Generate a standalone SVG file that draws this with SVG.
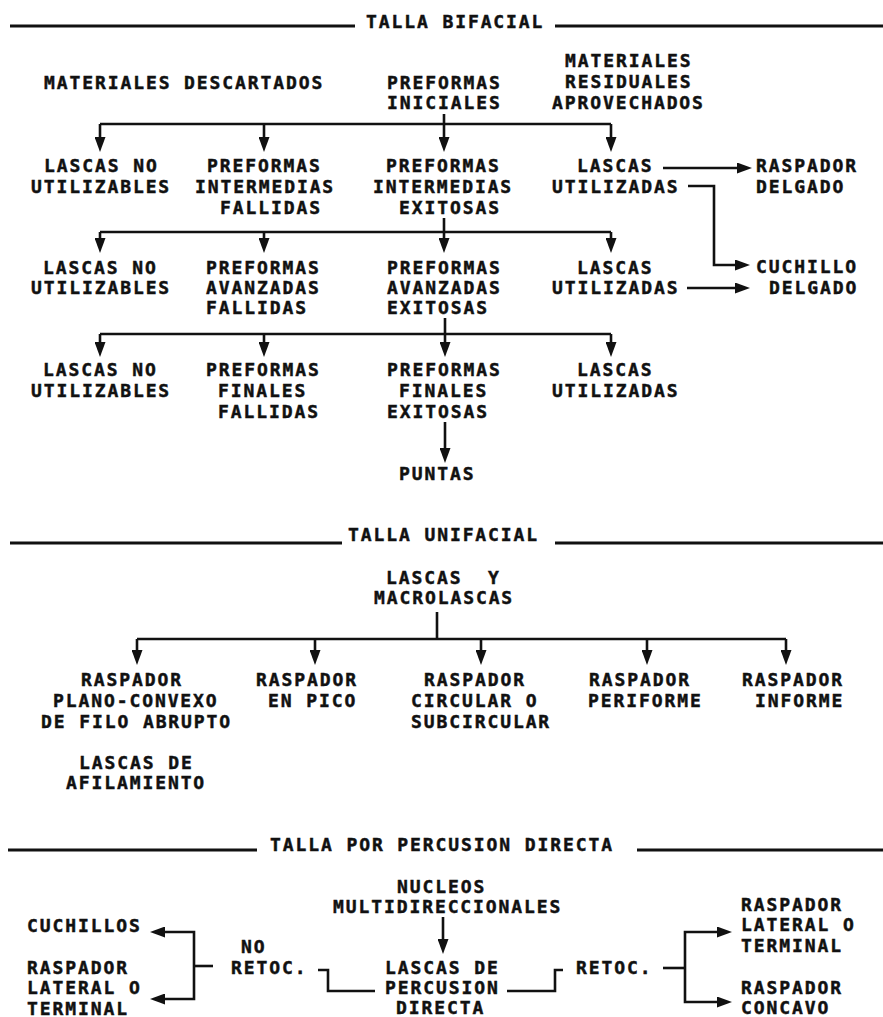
<svg xmlns="http://www.w3.org/2000/svg" width="883" height="1017" viewBox="0 0 883 1017">
<style>
.t{font-family:"DejaVu Sans Mono","Liberation Mono",monospace;font-weight:bold;font-size:18px;letter-spacing:1.9px;fill:#111;stroke:#111;stroke-width:0.45;white-space:pre}
.ln{stroke:#111;stroke-width:3;fill:none}
.c{stroke:#111;stroke-width:2.6;fill:none;stroke-linejoin:miter}
.a{marker-end:url(#ah)}
</style>
<defs>
<marker id="ah" markerUnits="userSpaceOnUse" markerWidth="15" markerHeight="11" refX="4" refY="5.5" orient="auto" viewBox="0 0 15 11">
<path d="M0,0 L15,5.5 L0,11 z" fill="#111"/>
</marker>
</defs>
<rect width="883" height="1017" fill="#fff"/>

<g id="title-bifacial">
<path class="ln" d="M10,26 H355 M555,26 H883"/>
<text class="t" x="366" y="28">TALLA BIFACIAL</text>
</g>
<g id="materiales-descartados"><text class="t" x="44" y="89.4">MATERIALES DESCARTADOS</text></g>
<g id="preformas-iniciales"><text class="t" x="387" y="89.4">PREFORMAS</text><text class="t" x="387" y="109.4">INICIALES</text></g>
<g id="materiales-residuales"><text class="t" x="565" y="67.4">MATERIALES</text><text class="t" x="565" y="88.4">RESIDUALES</text><text class="t" x="552" y="109.4">APROVECHADOS</text></g>

<g id="r2-lascas-no"><text class="t" x="44" y="172.4">LASCAS NO</text><text class="t" x="31" y="193.4">UTILIZABLES</text></g>
<g id="r2-pref-fallidas"><text class="t" x="207" y="172.4">PREFORMAS</text><text class="t" x="195" y="193.4">INTERMEDIAS</text><text class="t" x="220" y="213.9">FALLIDAS</text></g>
<g id="r2-pref-exitosas"><text class="t" x="386" y="172.4">PREFORMAS</text><text class="t" x="373" y="193.4">INTERMEDIAS</text><text class="t" x="399" y="213.9">EXITOSAS</text></g>
<g id="r2-lascas-util"><text class="t" x="577" y="172.4">LASCAS</text><text class="t" x="552" y="193.4">UTILIZADAS</text></g>
<g id="raspador-delgado"><text class="t" x="756" y="172.4">RASPADOR</text><text class="t" x="756" y="193.4">DELGADO</text></g>

<g id="r3-lascas-no"><text class="t" x="43" y="274">LASCAS NO</text><text class="t" x="31" y="294.4">UTILIZABLES</text></g>
<g id="r3-pref-fallidas"><text class="t" x="206" y="274">PREFORMAS</text><text class="t" x="206" y="294.4">AVANZADAS</text><text class="t" x="206" y="314.4">FALLIDAS</text></g>
<g id="r3-pref-exitosas"><text class="t" x="387" y="274">PREFORMAS</text><text class="t" x="387" y="294.4">AVANZADAS</text><text class="t" x="387" y="314.4">EXITOSAS</text></g>
<g id="r3-lascas-util"><text class="t" x="577" y="274">LASCAS</text><text class="t" x="552" y="294.4">UTILIZADAS</text></g>
<g id="cuchillo-delgado"><text class="t" x="756" y="273.4">CUCHILLO</text><text class="t" x="769" y="294.4">DELGADO</text></g>

<g id="r4-lascas-no"><text class="t" x="43" y="376.4">LASCAS NO</text><text class="t" x="31" y="397.4">UTILIZABLES</text></g>
<g id="r4-pref-fallidas"><text class="t" x="206" y="376.4">PREFORMAS</text><text class="t" x="218" y="397.4">FINALES</text><text class="t" x="218" y="418.4">FALLIDAS</text></g>
<g id="r4-pref-exitosas"><text class="t" x="387" y="376.4">PREFORMAS</text><text class="t" x="399" y="397.4">FINALES</text><text class="t" x="387" y="418.4">EXITOSAS</text></g>
<g id="r4-lascas-util"><text class="t" x="577" y="376.4">LASCAS</text><text class="t" x="552" y="397.4">UTILIZADAS</text></g>
<g id="puntas"><text class="t" x="399" y="480.4">PUNTAS</text></g>

<g id="title-unifacial">
<path class="ln" d="M10,543 H342 M555,543 H883"/>
<text class="t" x="348" y="541.4">TALLA UNIFACIAL</text>
</g>
<g id="lascas-macrolascas"><text class="t" x="386" y="584.4">LASCAS  Y</text><text class="t" x="374" y="604.4">MACROLASCAS</text></g>
<g id="rasp-plano-convexo"><text class="t" x="81" y="686.4">RASPADOR</text><text class="t" x="53" y="707.4">PLANO-CONVEXO</text><text class="t" x="41" y="728.4">DE FILO ABRUPTO</text></g>
<g id="lascas-afilamiento"><text class="t" x="79" y="769.4">LASCAS DE</text><text class="t" x="66" y="789.4">AFILAMIENTO</text></g>
<g id="rasp-pico"><text class="t" x="256" y="686.4">RASPADOR</text><text class="t" x="268" y="707.4">EN PICO</text></g>
<g id="rasp-circular"><text class="t" x="424" y="686.4">RASPADOR</text><text class="t" x="411" y="707.4">CIRCULAR O</text><text class="t" x="411" y="728.4">SUBCIRCULAR</text></g>
<g id="rasp-periforme"><text class="t" x="589" y="686.4">RASPADOR</text><text class="t" x="588" y="707.4">PERIFORME</text></g>
<g id="rasp-informe"><text class="t" x="742" y="686.4">RASPADOR</text><text class="t" x="755" y="707.4">INFORME</text></g>

<g id="title-percusion">
<path class="ln" d="M8,850 H257 M637,850 H883"/>
<text class="t" x="270" y="851.4">TALLA POR PERCUSION DIRECTA</text>
</g>
<g id="nucleos"><text class="t" x="397" y="893.4">NUCLEOS</text><text class="t" x="333" y="913.4">MULTIDIRECCIONALES</text></g>
<g id="lascas-percusion"><text class="t" x="385" y="974.4">LASCAS DE</text><text class="t" x="385" y="994.4">PERCUSION</text><text class="t" x="396" y="1014.4">DIRECTA</text></g>
<g id="no-retoc"><text class="t" x="241" y="953.4">NO</text><text class="t" x="231" y="974.4">RETOC.</text></g>
<g id="retoc"><text class="t" x="576" y="974.4">RETOC.</text></g>
<g id="cuchillos"><text class="t" x="27" y="932.4">CUCHILLOS</text></g>
<g id="rasp-lateral-left"><text class="t" x="27" y="974.4">RASPADOR</text><text class="t" x="27" y="994.4">LATERAL O</text><text class="t" x="27" y="1015">TERMINAL</text></g>
<g id="rasp-lateral-right"><text class="t" x="741" y="911.4">RASPADOR</text><text class="t" x="741" y="931.4">LATERAL O</text><text class="t" x="741" y="952.4">TERMINAL</text></g>
<g id="rasp-concavo"><text class="t" x="741" y="994.4">RASPADOR</text><text class="t" x="741" y="1014.4">CONCAVO</text></g>

<g id="connectors">
<path class="c" d="M444,114 V124 M100,124 H611 M444,218 V232 M100,232 H611 M445,318 V334 M100,334 H611 M437,612 V639 M137,639 H786"/>
<path class="c a" d="M100,124 V141"/>
<path class="c a" d="M264,124 V141"/>
<path class="c a" d="M444,124 V141"/>
<path class="c a" d="M611,124 V141"/>
<path class="c a" d="M663,168 H741"/>
<path class="c a" d="M688,186 H714 V265 H739"/>
<path class="c a" d="M100,232 V242"/>
<path class="c a" d="M264,232 V242"/>
<path class="c a" d="M444,232 V242"/>
<path class="c a" d="M611,232 V242"/>
<path class="c a" d="M687,288 H739"/>
<path class="c a" d="M100,334 V346"/>
<path class="c a" d="M264,334 V346"/>
<path class="c a" d="M445,334 V346"/>
<path class="c a" d="M611,334 V346"/>
<path class="c a" d="M445,422 V452"/>
<path class="c a" d="M137,639 V654"/>
<path class="c a" d="M315,639 V654"/>
<path class="c a" d="M481,639 V654"/>
<path class="c a" d="M647,639 V654"/>
<path class="c a" d="M786,639 V654"/>
<path class="c a" d="M443,917 V943"/>
<path class="c a" d="M194,966 V932 H161"/>
<path class="c a" d="M194,966 V999 H161"/>
<path class="c" d="M194,966 H213"/>
<path class="c" d="M318,970 H328 V991 H375"/>
<path class="c" d="M507,991 H555 V970 H563"/>
<path class="c" d="M663,968 H685"/>
<path class="c a" d="M685,968 V932 H721"/>
<path class="c a" d="M685,968 V1002 H721"/>
</g>
</svg>
